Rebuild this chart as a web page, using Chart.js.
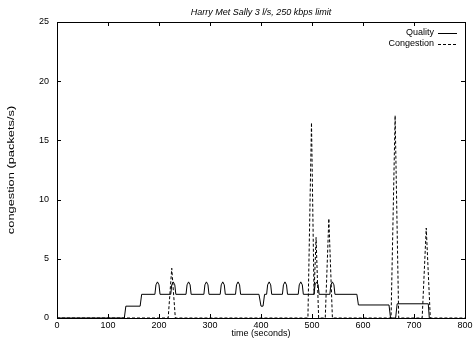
<!DOCTYPE html>
<html>
<head>
<meta charset="utf-8">
<title>Harry Met Sally 3 l/s, 250 kbps limit</title>
<script src="https://cdn.jsdelivr.net/npm/chart.js@4.4.1/dist/chart.umd.min.js"></script>
<style>
  html, body { margin: 0; padding: 0; background: #fff; }
  #wrap { width: 476px; height: 342px; position: relative; }
</style>
</head>
<body>
<div id="wrap"><canvas id="grafica"></canvas></div>
<script>
// ---- datos ----
const tituloGrafica = "Harry Met Sally 3 l/s, 250 kbps limit";
const ejeX = "time (seconds)";
const ejeY = "congestion (packets/s)";

const ticksX = [0, 100, 200, 300, 400, 500, 600, 700, 800];
const ticksY = [0, 5, 10, 15, 20, 25];

// Quality (línea continua)
const tiempoCalidad = [
  0, 132, 135, 163, 166,
  192, 194, 197, 200, 202,
  223, 225, 228, 231, 233,
  253, 255, 258, 261, 263,
  288, 290, 293, 296, 298,
  320, 322, 325, 328, 330,
  350, 352, 355, 358, 360,
  396, 400, 404, 407,
  411, 413, 416, 419, 421,
  442, 444, 447, 450, 452,
  473, 475, 478, 481, 483,
  504, 506, 509, 512, 514,
  535, 537, 540, 543, 545,
  588, 591, 651, 654, 664, 667, 728, 730
];
const valorCalidad = [
  0, 0, 1, 1, 2,
  2, 2.8, 3.05, 2.8, 2,
  2, 2.8, 3.05, 2.8, 2,
  2, 2.8, 3.05, 2.8, 2,
  2, 2.8, 3.05, 2.8, 2,
  2, 2.8, 3.05, 2.8, 2,
  2, 2.8, 3.05, 2.8, 2,
  2, 1, 1, 2,
  2, 2.8, 3.05, 2.8, 2,
  2, 2.8, 3.05, 2.8, 2,
  2, 2.8, 3.05, 2.8, 2,
  2, 2.8, 3.05, 2.8, 2,
  2, 2.8, 3.05, 2.8, 2,
  2, 1.1, 1.1, 0, 0, 1.2, 1.2, 0
];

// Congestion (línea discontinua)
const tiempoCongestion = [
  0, 218, 225, 232,
  492, 499, 504, 508, 513,
  526, 533, 540,
  655, 663, 670,
  716, 724, 732, 800
];
const valorCongestion = [
  0, 0, 4.2, 0,
  0, 16.5, 2, 6.8, 0,
  0, 8.4, 0,
  0, 17.1, 0,
  0, 7.6, 0, 0
];

const fuente = "'Liberation Sans', Arial, Helvetica, sans-serif";

const puntos = (xs, ys) => xs.map((x, i) => ({ x, y: ys[i] }));

// ---- marco, marcas hacia dentro, títulos y leyenda ----
const marcoPlugin = {
  id: "marco",
  afterDraw(chart) {
    const { ctx, chartArea: a, scales } = chart;
    const centroX = (a.left + a.right) / 2;
    const centroY = (a.top + a.bottom) / 2;
    ctx.save();
    ctx.strokeStyle = "#000";
    ctx.fillStyle = "#000";
    ctx.lineWidth = 1;
    ctx.strokeRect(a.left + 0.5, a.top + 0.5, a.right - a.left, a.bottom - a.top);

    ctx.beginPath();
    ticksX.forEach((v) => {
      const px = Math.round(scales.x.getPixelForValue(v)) + 0.5;
      ctx.moveTo(px, a.bottom); ctx.lineTo(px, a.bottom - 4);
      ctx.moveTo(px, a.top); ctx.lineTo(px, a.top + 4);
    });
    ticksY.forEach((v) => {
      const py = Math.round(scales.y.getPixelForValue(v)) + 0.5;
      ctx.moveTo(a.left, py); ctx.lineTo(a.left + 4, py);
      ctx.moveTo(a.right, py); ctx.lineTo(a.right - 4, py);
    });
    ctx.stroke();

    // título centrado sobre el área de trazado
    ctx.textAlign = "center";
    ctx.textBaseline = "middle";
    ctx.font = "italic 9px " + fuente;
    ctx.fillText(tituloGrafica, centroX, 12);

    // título del eje Y, girado y algo estirado a lo largo
    ctx.save();
    ctx.translate(11, centroY);
    ctx.rotate(-Math.PI / 2);
    ctx.scale(1.35, 1);
    ctx.font = "9.5px " + fuente;
    ctx.fillText(ejeY, 0, 0);
    ctx.restore();

    // leyenda arriba a la derecha
    ctx.font = "9px " + fuente;
    ctx.textAlign = "right";
    chart.data.datasets.forEach((ds, i) => {
      const y = 33 + i * 10.5;
      ctx.fillText(ds.label, 434, y);
      ctx.beginPath();
      ctx.setLineDash(ds.borderDash || []);
      ctx.moveTo(438, Math.round(y) + 0.5);
      ctx.lineTo(457, Math.round(y) + 0.5);
      ctx.stroke();
    });
    ctx.restore();
  },
};

new Chart(document.getElementById("grafica"), {
  type: "line",
  data: {
    datasets: [
      {
        label: "Quality",
        data: puntos(tiempoCalidad, valorCalidad),
        borderColor: "#000",
        borderWidth: 1,
        pointRadius: 0,
        tension: 0,
      },
      {
        label: "Congestion",
        data: puntos(tiempoCongestion, valorCongestion),
        borderColor: "#000",
        borderWidth: 1,
        borderDash: [3, 2],
        pointRadius: 0,
        tension: 0,
      },
    ],
  },
  options: {
    responsive: true,
    maintainAspectRatio: false,
    animation: false,
    layout: { padding: { left: 0, right: 11, top: 22, bottom: 0 } },
    plugins: {
      legend: { display: false },
      tooltip: { enabled: false },
      title: { display: false },
    },
    scales: {
      x: {
        type: "linear",
        min: 0,
        max: 800,
        afterBuildTicks: (s) => { s.ticks = ticksX.map((v) => ({ value: v })); },
        afterFit: (s) => { s.height = 24; },
        grid: { display: false, drawTicks: false },
        border: { display: false },
        ticks: { color: "#000", font: { family: fuente, size: 9 }, padding: 2, maxRotation: 0 },
        title: {
          display: true,
          text: ejeX,
          color: "#000",
          font: { family: fuente, size: 9 },
          padding: { top: 0, bottom: 3 },
        },
      },
      y: {
        min: 0,
        max: 25,
        afterBuildTicks: (s) => { s.ticks = ticksY.map((v) => ({ value: v })); },
        afterFit: (s) => { s.width = 57; },
        grid: { display: false, drawTicks: false },
        border: { display: false },
        ticks: { color: "#000", font: { family: fuente, size: 9 }, padding: 8 },
        title: { display: false },
      },
    },
  },
  plugins: [marcoPlugin],
});
</script>
</body>
</html>
